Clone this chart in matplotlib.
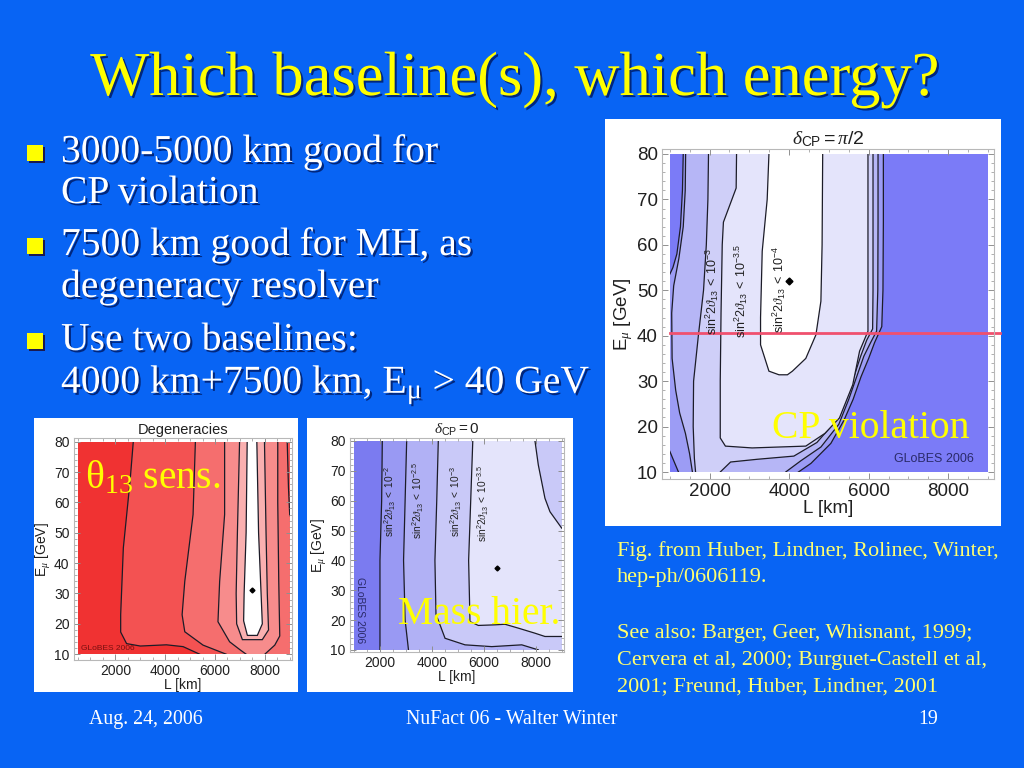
import matplotlib
matplotlib.use('Agg')
import matplotlib.pyplot as plt
import matplotlib.patheffects as pe
from matplotlib.patches import Rectangle
from matplotlib.ticker import MultipleLocator

plt.rcParams['mathtext.fontset'] = 'custom'
plt.rcParams['mathtext.rm'] = 'Liberation Serif'
plt.rcParams['mathtext.it'] = 'Liberation Serif:italic'
plt.rcParams['mathtext.sf'] = 'Liberation Sans'

SLIDE_BLUE = '#0864f4'
YELLOW = '#ffff00'
CITE_YELLOW = '#ffff70'
LINE = '#1c1c28'

# ---- panel: delta_CP = pi/2 (big one), contour regions
cp90_levels = ['#7b7bf7', '#9c9cf5', '#b6b6f6', '#cfcff8', '#e4e4fb', '#ffffff']
cp90_r1_L = [1340, 1340, 1320, 1270, 1180, 1080, 1000, 900, 900, 1000, 1100, 1220, 1250,
             4050, 4120, 4550, 5050, 5380, 5610, 5810, 6000, 6150, 6330, 6360, 6370, 6370, 6370]
cp90_r1_E = [90, 80, 72, 64, 58, 55, 53.5, 53, 16, 14.6, 12.5, 10, 5,
             5, 9.3, 11.9, 16.3, 21.4, 26, 31, 35, 38.5, 42, 50, 65, 80, 90]
cp90_r2_L = [1400, 1400, 1390, 1340, 1230, 1100, 1050, 1060, 1150, 1250, 1395, 1500, 1571, 1600,
             3880, 3915, 4300, 4800, 5250, 5500, 5700, 5880, 6050, 6200, 6230, 6236, 6236, 6236]
cp90_r2_E = [90, 80, 72, 64, 57, 51, 45, 35, 28, 23, 18.5, 14, 10, 5,
             5, 10, 12.5, 15.5, 20.5, 26, 31, 35.5, 38.5, 41, 50, 65, 80, 90]
cp90_r3_L = [1975, 1975, 1960, 1920, 1850, 1720, 1600, 1590, 1620, 1650, 1660,
             2250, 2270, 2530, 3200, 4120, 4700, 5150, 5450, 5650, 5800, 5950, 6100, 6110, 6110, 6110]
cp90_r3_E = [90, 80, 70, 60, 50, 40, 30, 20, 13, 10, 5,
             5, 10, 12.2, 12.8, 13.5, 16.5, 21, 26.5, 31.5, 35.5, 39, 41.5, 50, 80, 90]
cp90_r4_L = [2680, 2680, 2670, 2350, 2320, 2290, 2270, 2270, 2400, 3070, 4420, 4900, 5266,
             5600, 5772, 5983, 5983, 5983, 5983]
cp90_r4_E = [90, 80, 72.5, 65, 60, 45, 30, 17.5, 15.7, 15.3, 15.7, 18.5, 21.9,
             29.2, 36.6, 41, 60, 80, 90]
cp90_r5_L = [3494, 3494, 3450, 3325, 3283, 3283, 3494, 3747, 3958, 4084, 4420, 4675, 4800,
             4830, 4845, 4845]
cp90_r5_E = [90, 80, 70, 58.6, 44, 38, 32.2, 31.4, 31.4, 32.2, 35, 40.2, 47.6, 60, 80, 90]
cp90_labels = ['-3', '-3.5', '-4']
cp90_label_L = [2059, 2776, 3730]
cp90_label_E = [49.8, 49.8, 50.1]
cp90_best = (4000, 52)
cp90_cut_E = 40.7

# ---- panel: Degeneracies
deg_levels = ['#f03232', '#f35252', '#f56e6e', '#f78c8c', '#fab0b0', '#ffffff']
deg_r1_L = [2720, 2720, 2590, 2320, 2213, 2213, 2450, 3000, 4050, 4720, 5387, 5500, 9300, 9300]
deg_r1_E = [85, 80, 67, 45, 23, 17.3, 13.5, 12.7, 13.1, 12.5, 10, 5, 5, 85]
deg_r2_L = [5213, 5213, 5120, 4787, 4680, 4787, 5520, 6453, 6550, 9300, 9300, 9000, 8950, 8900, 8900]
deg_r2_E = [85, 80, 56, 34, 23, 17.4, 13, 10, 5, 5, 50, 56, 65, 80, 85]
deg_r3_L = [6387, 6387, 6387, 6187, 6120, 6587, 7000, 7253, 7300, 7900, 8000, 8400, 8600, 8560, 8520, 8520, 8520]
deg_r3_E = [85, 80, 56, 34, 20.7, 14.1, 11.5, 10, 5, 5, 10, 13, 16, 34, 60, 80, 85]
deg_r4_L = [6987, 6987, 6900, 6850, 6870, 7100, 7900, 8150, 8100, 8050, 7987, 7987]
deg_r4_E = [85, 80, 50, 30, 20, 14.8, 14.8, 18, 30, 50, 80, 85]
deg_r5_L = [7293, 7293, 7250, 7170, 7150, 7300, 7700, 7900, 7850, 7750, 7680, 7680]
deg_r5_E = [85, 80, 50, 30, 21, 16.2, 16.2, 20, 30, 50, 80, 85]
deg_best = (7500, 31)

# ---- panel: delta_CP = 0
cp0_levels = ['#7b7bf0', '#9999f3', '#b1b1f5', '#c9c9f8', '#e4e4fb']
cp0_r1_L = [2080, 2080, 2055, 1990, 1990, 1990, 9300, 9300]
cp0_r1_E = [85, 80, 60, 40, 10, 5, 5, 85]
cp0_r2_L = [3020, 3020, 2960, 2900, 2960, 3090, 3100, 9300, 9300]
cp0_r2_E = [85, 80, 60, 40, 20, 10, 5, 5, 85]
cp0_r3_L = [4240, 4240, 4180, 4110, 4150, 4500, 5270, 6300, 7460, 8100, 8200, 9300, 9300]
cp0_r3_E = [85, 80, 60, 40, 22, 13.9, 11.7, 11.1, 11.7, 10, 5, 5, 85]
cp0_r4_L = [5570, 5570, 5490, 5410, 5462, 5783, 6426, 6812, 7325, 7969, 8354, 9000, 9300,
            9300, 9000, 8547, 8354, 8097, 7969, 7969]
cp0_r4_E = [85, 80, 60, 40, 19.5, 18.2, 18.4, 18.6, 17.3, 15.6, 14.5, 14.5, 14.5,
            50, 50.8, 56.3, 60.8, 72, 80, 85]
cp0_labels = ['-2', '-2.5', '-3', '-3.5']
cp0_label_L = [2377, 3470, 4950, 5976]
cp0_label_E = [59.7, 60, 59.7, 59]
cp0_best = (6490, 37.6)

x_ticks = [2000, 4000, 6000, 8000]
y_ticks = [10, 20, 30, 40, 50, 60, 70, 80]

W, H = 1024, 768
fig = plt.figure(figsize=(W / 100, H / 100), dpi=100)
fig.patch.set_facecolor(SLIDE_BLUE)


def fx(x):
    return x / W


def fy(y):
    return 1 - y / H


def white_box(x0, y0, x1, y1):
    fig.add_artist(Rectangle((fx(x0), fy(y1)), fx(x1 - x0), (y1 - y0) / H,
                             transform=fig.transFigure, facecolor='white',
                             edgecolor='none', zorder=-1))


def panel(frame, xlim, ylim, box, base, regions, colors, tsize, lsize, hsize, title):
    x0, y0, x1, y1 = frame
    ax = fig.add_axes([fx(x0), fy(y1), fx(x1 - x0), (y1 - y0) / H])
    ax.set_xlim(xlim)
    ax.set_ylim(ylim)
    clip = Rectangle((box[0], box[2]), box[1] - box[0], box[3] - box[2],
                     transform=ax.transData)
    ax.add_patch(Rectangle((box[0], box[2]), box[1] - box[0], box[3] - box[2],
                           facecolor=base, edgecolor='none'))
    for (L, E), c in zip(regions, colors):
        poly = ax.fill(L, E, facecolor=c, edgecolor=LINE, lw=0.9)[0]
        poly.set_clip_path(clip)
    ax.set_xticks(x_ticks)
    ax.set_yticks(y_ticks)
    ax.xaxis.set_minor_locator(MultipleLocator(500))
    ax.yaxis.set_minor_locator(MultipleLocator(2))
    ax.tick_params(which='both', direction='in', top=True, right=True,
                   color='#909090', labelcolor='#202020', labelsize=tsize, pad=3)
    ax.tick_params(which='major', length=4, width=0.7)
    ax.tick_params(which='minor', length=2, width=0.5)
    for t in ax.get_xticklabels() + ax.get_yticklabels():
        t.set_family('Liberation Sans')
    for s in ax.spines.values():
        s.set_color('#b8b8b8')
        s.set_linewidth(0.8)
    ax.set_xlabel('L [km]', family='Liberation Sans', fontsize=lsize, labelpad=0, color='#202020')
    ax.set_ylabel(r'E$_{\mu}$ [GeV]', family='Liberation Sans', fontsize=lsize, labelpad=1, color='#202020')
    ax.set_title(title, family='Liberation Sans', fontsize=hsize, pad=3, color='#202020')
    return ax


def sin_label(ax, L, E, expo, size):
    ax.text(L, E, r'$\mathsf{sin^2 2}\vartheta_{\mathsf{13}}\mathsf{\ <\ 10^{' + expo + '}}$',
            rotation=90, ha='center', va='center', fontsize=size, color='#202020')


# ---- white boxes behind the three figures
white_box(605, 119, 1001, 526)
white_box(34, 418, 298, 692)
white_box(307, 418, 573, 692)

# ---- big panel
ax1 = panel((662, 149, 994, 479), (806, 9151), (8.46, 81.1), (1000, 9000, 10, 80),
            cp90_levels[0],
            [(cp90_r1_L, cp90_r1_E), (cp90_r2_L, cp90_r2_E), (cp90_r3_L, cp90_r3_E),
             (cp90_r4_L, cp90_r4_E), (cp90_r5_L, cp90_r5_E)],
            cp90_levels[1:], 13.5, 13.5, 14, r'$\delta_{\mathsf{CP}}\mathsf{=}\pi\mathsf{/2}$')
for lab, L, E in zip(cp90_labels, cp90_label_L, cp90_label_E):
    sin_label(ax1, L, E, lab, 9)
ax1.plot(*cp90_best, marker='D', ms=3.5, color='k')
ax1.text(7650, 12.9, 'GLoBES 2006', ha='center', va='center', fontsize=9,
         family='Liberation Sans', color='#2a2a6a')
ax1.plot([1000, 9314], [cp90_cut_E, cp90_cut_E], color='#f0506e', lw=2, clip_on=False)

# ---- Degeneracies
ax2 = panel((73.7, 438.3, 291.7, 660), (327, 9080), (8.1, 81.1), (500, 9000, 10, 80),
            deg_levels[0],
            [(deg_r1_L, deg_r1_E), (deg_r2_L, deg_r2_E), (deg_r3_L, deg_r3_E),
             (deg_r4_L, deg_r4_E), (deg_r5_L, deg_r5_E)],
            deg_levels[1:], 10, 10, 10.5, 'Degeneracies')
ax2.plot(*deg_best, marker='D', ms=2.5, color='k')
ax2.text(1700, 11.8, 'GLoBES 2006', ha='center', va='center', fontsize=6,
         family='Liberation Sans', color='#7a1010')

# ---- delta_CP = 0
ax3 = panel((350, 438.3, 564.3, 652.3), (834, 9100), (9.2, 80.9), (1000, 9000, 10, 80),
            cp0_levels[0],
            [(cp0_r1_L, cp0_r1_E), (cp0_r2_L, cp0_r2_E), (cp0_r3_L, cp0_r3_E),
             (cp0_r4_L, cp0_r4_E)],
            cp0_levels[1:], 10, 10, 11, r'$\delta_{\mathsf{CP}}\mathsf{=0}$')
for lab, L, E in zip(cp0_labels, cp0_label_L, cp0_label_E):
    sin_label(ax3, L, E, lab, 7.3)
ax3.plot(*cp0_best, marker='D', ms=2.5, color='k')
ax3.text(1220, 23.4, 'GLoBES 2006', rotation=-90, ha='center', va='center', fontsize=7.5,
         family='Liberation Sans', color='#2a2a6a')

# ---- slide text
shadow = [pe.withSimplePatchShadow(offset=(1.5, -1.5), shadow_rgbFace='#002070', alpha=0.9)]
serif = 'Liberation Serif'

fig.text(fx(515), fy(95), 'Which baseline(s), which energy?', ha='center', va='baseline',
         fontsize=45, family=serif, color=YELLOW, path_effects=shadow)

bullet_lines = [
    ('3000-5000 km good for', 162, True),
    ('CP violation', 203, False),
    ('7500 km good for MH, as', 255, True),
    ('degeneracy resolver', 297, False),
    ('Use two baselines:', 350, True),
    (r'4000 km+7500 km, E$_{\mathrm{μ}}$ > 40 GeV', 393, False),
]
for txt, base_y, has_bullet in bullet_lines:
    fig.text(fx(61), fy(base_y), txt, ha='left', va='baseline', fontsize=28.5,
             family=serif, color='white', path_effects=shadow)
    if has_bullet:
        fig.add_artist(Rectangle((fx(29), fy(base_y + 1)), fx(16), 16 / H,
                                 transform=fig.transFigure, facecolor='#1a1a50',
                                 edgecolor='none'))
        fig.add_artist(Rectangle((fx(27), fy(base_y - 1)), fx(16), 16 / H,
                                 transform=fig.transFigure, facecolor=YELLOW,
                                 edgecolor='none'))

cite_lines = [
    ('Fig. from Huber, Lindner, Rolinec, Winter,', 556),
    ('hep-ph/0606119.', 582),
    ('See also: Barger, Geer, Whisnant, 1999;', 638),
    ('Cervera et al, 2000; Burguet-Castell et al,', 665),
    ('2001; Freund, Huber, Lindner, 2001', 691),
]
for txt, base_y in cite_lines:
    fig.text(fx(617), fy(base_y), txt, ha='left', va='baseline', fontsize=16,
             family=serif, color=CITE_YELLOW)

# yellow overlay captions
fig.text(fx(772), fy(438), 'CP violation', ha='left', va='baseline', fontsize=28.5,
         family=serif, color=YELLOW)
fig.text(fx(85), fy(488), r'θ$_{\mathrm{13}}$ sens.', ha='left', va='baseline', fontsize=28.5,
         family=serif, color=YELLOW)
fig.text(fx(398), fy(624), 'Mass hier.', ha='left', va='baseline', fontsize=28.5,
         family=serif, color=YELLOW)

# footer
fig.text(fx(89), fy(724), 'Aug. 24, 2006', ha='left', va='baseline', fontsize=14.3,
         family=serif, color='white')
fig.text(fx(512), fy(724), 'NuFact 06 - Walter Winter', ha='center', va='baseline',
         fontsize=14.3, family=serif, color='white')
fig.text(fx(928), fy(724), '19', ha='center', va='baseline', fontsize=14.3,
         family=serif, color='white')

fig.savefig('out.png', dpi=100, facecolor=fig.get_facecolor())
